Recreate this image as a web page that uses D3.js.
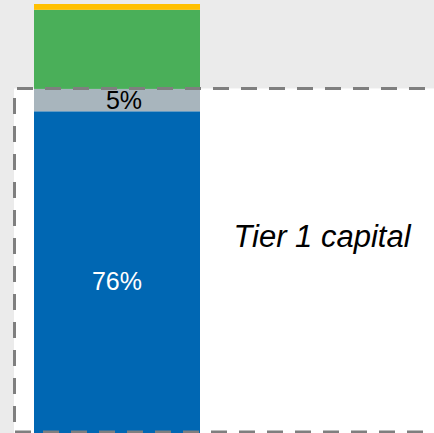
<!DOCTYPE html>
<html>
<head>
<meta charset="utf-8">
<script src="https://cdnjs.cloudflare.com/ajax/libs/d3/7.8.5/d3.min.js"></script>
<style>
	body { margin: 0; background: #ebebeb; }
	svg { display: block; font-family: "Liberation Sans", Arial, sans-serif; }
</style>
</head>
<body>
<script>
(function() {

	// stack segments, bottom to top
	var segments = ["CET1", "AT1", "Tier 2", "Other"];
	var values = [76, 5, 17.7, 1.3];
	var labels = ["76%", "5%", "", ""];
	var labelShift = [0, 7, 0, 0];
	var colors = ["#0067b3", "#a8b5bd", "#4aaf59", "#ffc000"];
	var labelColors = ["#ffffff", "#000000", "#000000", "#000000"];
	var boxLabel = "Tier 1 capital";

	var width = 434;
	var height = 433;

	var svg = d3.select("body")
		.append("svg")
		.attr("width", width)
		.attr("height", height);

	// background
	svg.append("rect")
		.attr("width", width)
		.attr("height", height)
		.attr("fill", "#ebebeb");

	// the bar runs past the bottom of the picture
	var x = d3.scaleBand()
		.domain(["bar"])
		.range([34, 200])
		.padding(0);

	var y = d3.scaleLinear()
		.domain([0, 100])
		.range([451, 4]);

	// build stack
	var stack = [];
	var acc = 0;
	values.forEach(function(v, i) {
		stack.push({ name: segments[i], y0: acc, y1: acc + v, label: labels[i], shift: labelShift[i], color: colors[i], labelColor: labelColors[i] });
		acc += v;
	});

	// tier 1 box: covers the two bottom segments
	var boxTop = y(values[0] + values[1]);

	svg.append("rect")
		.attr("x", 14)
		.attr("y", boxTop - 0.5)
		.attr("width", width)
		.attr("height", height)
		.attr("fill", "#ffffff");

	svg.selectAll("rect.seg")
		.data(stack)
		.enter()
		.append("rect")
		.attr("class", "seg")
		.attr("x", x("bar"))
		.attr("width", x.bandwidth())
		.attr("y", function(d) { return y(d.y1); })
		.attr("height", function(d) { return y(d.y0) - y(d.y1); })
		.attr("fill", function(d) { return d.color; });

	// dashed outline
	var dash = svg.append("g")
		.attr("stroke", "#7f7f7f")
		.attr("stroke-width", 3)
		.attr("stroke-dasharray", "16,12");

	dash.append("line")
		.attr("x1", 17).attr("x2", width + 20)
		.attr("y1", 88.5).attr("y2", 88.5);

	dash.append("line")
		.attr("x1", 14.5).attr("x2", 14.5)
		.attr("y1", 98).attr("y2", height);

	dash.append("line")
		.attr("x1", 15).attr("x2", width + 20)
		.attr("y1", 432).attr("y2", 432);

	// segment labels
	svg.selectAll("text.seg")
		.data(stack.filter(function(d) { return d.label; }))
		.enter()
		.append("text")
		.attr("class", "seg")
		.attr("x", function(d) { return x("bar") + x.bandwidth() / 2 + d.shift; })
		.attr("y", function(d) { return (y(d.y0) + y(d.y1)) / 2; })
		.attr("dy", "0.35em")
		.attr("text-anchor", "middle")
		.attr("font-size", 25)
		.attr("fill", function(d) { return d.labelColor; })
		.text(function(d) { return d.label; });

	svg.append("text")
		.attr("x", 322)
		.attr("y", 247)
		.attr("text-anchor", "middle")
		.attr("font-size", 31)
		.attr("font-style", "italic")
		.attr("fill", "#000000")
		.text(boxLabel);

})();
</script>
</body>
</html>
